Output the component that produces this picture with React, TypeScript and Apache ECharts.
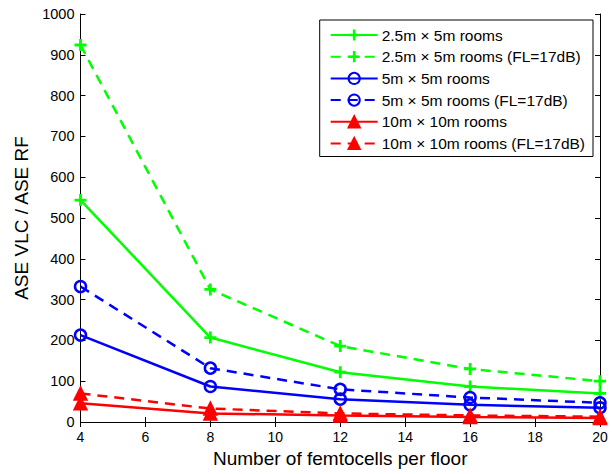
import React, { useEffect, useRef } from "react";
import * as echarts from "echarts";

const femtocells = [4, 8, 12, 16, 20];
const green5 = [544, 207, 122, 87, 70];
const green5FL = [924, 325, 186, 130, 100];
const blue5 = [213, 87, 56, 42, 35];
const blue5FL = [332, 132, 80, 60, 47];
const red10 = [46, 21, 16, 12, 10];
const red10FL = [70, 33, 21, 16, 13];

const names = [
  "2.5m × 5m rooms",
  "2.5m × 5m rooms (FL=17dB)",
  "5m × 5m rooms",
  "5m × 5m rooms (FL=17dB)",
  "10m × 10m rooms",
  "10m × 10m rooms (FL=17dB)",
];

const PLUS = "path://M4.6,0H7.4V4.6H12V7.4H7.4V12H4.6V7.4H0V4.6H4.6Z";

export default function App() {
  const ref = useRef<HTMLDivElement>(null);
  useEffect(() => {
    document.body.style.margin = "0";
    const chart = echarts.init(ref.current!, null, { renderer: "svg" });
    const mk = (name: string, data: number[], color: string, dashed: boolean, kind: string) => {
      const s: any = {
        name,
        type: "line",
        data: femtocells.map((x, i) => [x, data[i]]),
        lineStyle: { color, width: 2.5, type: dashed ? [10, 7] : "solid" },
        symbolKeepAspect: true,
      };
      if (kind === "plus") {
        s.symbol = PLUS;
        s.symbolSize = 12;
        s.itemStyle = { color, borderWidth: 0 };
      } else if (kind === "circle") {
        s.symbol = "circle";
        s.symbolSize = 11;
        s.itemStyle = { color: "rgba(255,255,255,0)", borderColor: color, borderWidth: 2.5 };
      } else {
        s.symbol = "triangle";
        s.symbolSize = 13;
        s.itemStyle = { color, borderColor: color, borderWidth: 1.5 };
      }
      return s;
    };
    const font = "Liberation Sans, Arial, sans-serif";
    chart.setOption({
      animation: false,
      backgroundColor: "#fff",
      textStyle: { fontFamily: font },
      grid: { left: 80.5, right: 12, top: 14, bottom: 52, containLabel: false },
      legend: {
        orient: "vertical",
        right: 19,
        top: 20,
        padding: [7, 8, 5, 10],
        itemWidth: 47,
        itemHeight: 14,
        itemGap: 5.7,
        borderColor: "#000",
        borderWidth: 1,
        backgroundColor: "#fff",
        textStyle: { fontFamily: font, fontSize: 15.5, color: "#000", padding: [0, 0, 0, -1] },
        data: names,
      },
      xAxis: [
        {
          type: "value",
          min: 4,
          max: 20,
          interval: 2,
          name: "Number of femtocells per floor",
          nameLocation: "middle",
          nameGap: 18,
          nameTextStyle: { fontSize: 19, color: "#000", fontFamily: font },
          axisLine: { lineStyle: { color: "#000", width: 1 } },
          axisTick: { inside: true, length: 5, lineStyle: { color: "#000" } },
          axisLabel: { color: "#000", fontSize: 14, margin: 8, fontFamily: font },
          splitLine: { show: false },
        },
        {
          type: "value",
          position: "top",
          min: 4,
          max: 20,
          interval: 2,
          axisLine: { show: true, lineStyle: { color: "#000", width: 1 } },
          axisTick: { inside: true, length: 5, lineStyle: { color: "#000" } },
          axisLabel: { show: false },
          splitLine: { show: false },
        },
      ],
      yAxis: [
        {
          type: "value",
          min: 0,
          max: 1000,
          interval: 100,
          name: "ASE VLC / ASE RF",
          nameLocation: "middle",
          nameGap: 41,
          nameTextStyle: { fontSize: 19, color: "#000", fontFamily: font },
          axisLine: { show: true, lineStyle: { color: "#000", width: 1 } },
          axisTick: { show: true, inside: true, length: 5, lineStyle: { color: "#000" } },
          axisLabel: { color: "#000", fontSize: 14.5, margin: 6, fontFamily: font, formatter: (v: number) => String(v) },
          splitLine: { show: false },
        },
        {
          type: "value",
          position: "right",
          min: 0,
          max: 1000,
          interval: 100,
          axisLine: { show: true, lineStyle: { color: "#000", width: 1 } },
          axisTick: { show: true, inside: true, length: 5, lineStyle: { color: "#000" } },
          axisLabel: { show: false },
          splitLine: { show: false },
        },
      ],
      series: [
        mk(names[0], green5, "#00ff00", false, "plus"),
        mk(names[1], green5FL, "#00ff00", true, "plus"),
        mk(names[2], blue5, "#0000ff", false, "circle"),
        mk(names[3], blue5FL, "#0000ff", true, "circle"),
        mk(names[4], red10, "#ff0000", false, "tri"),
        mk(names[5], red10FL, "#ff0000", true, "tri"),
      ],
    });
    return () => chart.dispose();
  }, []);
  return <div ref={ref} style={{ width: 612, height: 474 }} />;
}
